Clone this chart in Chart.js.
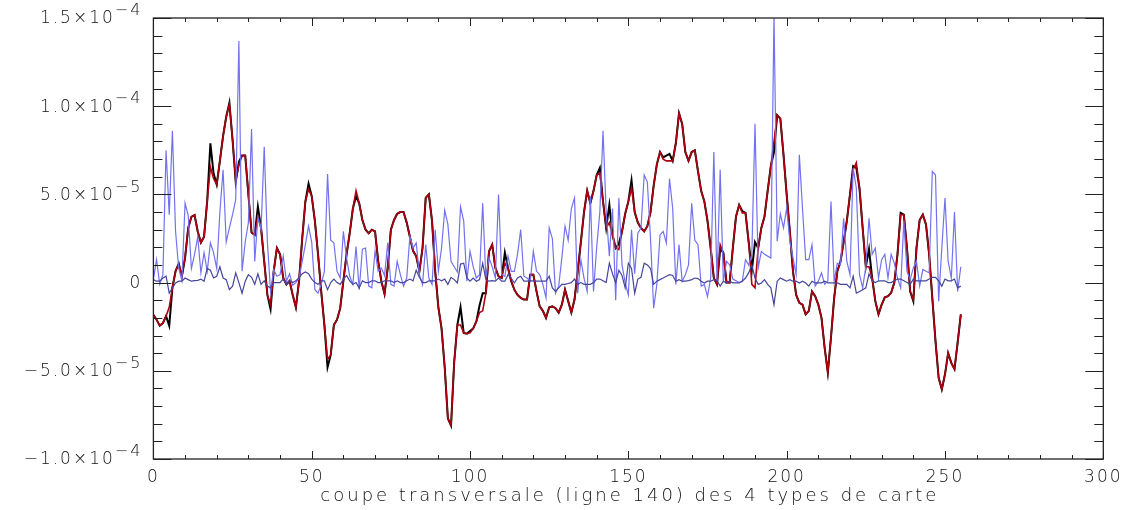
<!DOCTYPE html>
<html>
<head>
<meta charset="utf-8">
<script src="https://cdn.jsdelivr.net/npm/chart.js@4.4.1/dist/chart.umd.min.js"></script>
<style>
    html, body {margin: 0; padding: 0; background: #fff;}
    canvas {display: block;}
</style>
</head>
<body>
<canvas id="coupe" width="1130" height="510"></canvas>
<script>
// values are in units of 1e-5
const UNIT = 1e-5;

const carteNoire = [
    -1.83, -2.1, -2.44, -2.3, -1.9, -2.45, -0.3, 0.65, 1.07, 0.36,
    1.4, 3.1, 3.73, 3.83, 2.9, 2.27, 2.6, 4.65, 7.9, 6.2,
    5.56, 6.9, 8.3, 9.4, 10.2, 8.1, 5.7, 6.85, 7.2, 7.2,
    5.0, 2.84, 2.7, 4.3, 3.1, 1.2, -0.7, -1.5, 0.65, 1.96,
    1.6, 0.26, -0.1, 0.1, -0.7, -1.4, 0.1, 2.5, 4.6, 5.6,
    4.9, 3.5, 1.6, -0.5, -2.4, -4.8, -4.1, -2.4, -2.1, -1.45,
    0.1, 1.6, 2.8, 4.2, 4.9, 4.5, 3.55, 3.0, 2.8, 3.0,
    2.9, 1.2, 0.08, -0.64, 0.83, 3.0, 3.55, 3.9, 4.0, 4.0,
    3.4, 2.6, 1.8, 1.5, 0.64, 1.96, 4.8, 5.0, 3.5, 0.64,
    -1.4, -2.6, -4.8, -7.7, -8.1, -4.5, -2.4, -1.4, -2.85, -2.9,
    -2.75, -2.6, -2.2, -1.3, -0.6, -0.6, 1.77, 2.15, 0.83, 0.36,
    0.26, 1.7, 0.83, 0.08, -0.4, -0.7, -0.87, -0.96, -0.96, 0.45,
    0.45, -0.5, -1.35, -1.6, -2.0, -1.4, -1.35, -1.45, -1.7, -1.25,
    -0.4, -1.05, -1.7, -0.96, 0.64, 2.3, 4.0, 5.2, 4.5, 5.2,
    6.1, 6.5, 4.6, 3.1, 4.4, 2.7, 1.96, 2.2, 2.9, 3.9,
    4.6, 5.8, 4.0, 3.4, 3.1, 2.9, 3.2, 4.0, 5.5, 6.7,
    7.4, 7.1, 7.2, 7.3, 6.9, 7.9, 9.6, 9.0, 7.4, 6.9,
    7.4, 7.5, 6.3, 5.2, 4.6, 3.5, 1.96, 0.26, -0.1, 1.9,
    1.7, 0.0, 0.0, 1.96, 3.75, 4.4, 4.05, 3.95, 2.3, 0.7,
    2.3, 1.96, 3.1, 3.75, 5.2, 6.6, 7.4, 9.5, 9.3, 7.25,
    5.0, 2.9, 0.64, -0.7, -1.15, -1.25, -1.8, -1.6, -0.5, -0.77,
    -1.25, -2.0, -3.7, -5.1, -3.1, -0.87, 0.64, 1.2, 2.3, 3.5,
    5.0, 6.6, 6.5, 5.35, 3.1, 0.9, 1.9, 0.26, -1.05, -1.8,
    -1.25, -0.83, -0.77, -0.58, 0.0, 1.6, 3.95, 3.85, 1.96, -0.5,
    -1.05, 1.96, 3.55, 3.85, 3.3, 1.6, -0.87, -3.3, -5.4, -6.05,
    -5.2, -4.0, -4.55, -4.9, -3.4, -1.8
];

const carteRouge = [
    -1.83, -2.1, -2.44, -2.3, -1.9, -1.4, -0.3, 0.65, 1.07, 0.36,
    1.4, 3.1, 3.73, 3.83, 2.9, 2.27, 2.6, 4.65, 6.55, 5.9,
    5.56, 6.9, 8.3, 9.4, 10.1, 8.1, 5.8, 6.65, 7.2, 7.2,
    5.0, 2.84, 2.7, 3.75, 3.1, 1.2, -0.7, -1.25, 0.65, 1.96,
    1.6, 0.26, -0.1, 0.1, -0.7, -1.4, 0.1, 2.5, 4.6, 5.3,
    4.9, 3.5, 1.6, -0.5, -2.4, -4.35, -4.1, -2.4, -2.1, -1.45,
    0.1, 1.6, 2.8, 4.2, 5.2, 4.5, 3.55, 3.0, 2.8, 3.0,
    2.9, 1.2, 0.08, -0.64, 0.83, 3.0, 3.55, 3.9, 4.0, 4.0,
    3.4, 2.6, 1.8, 1.5, 0.64, 1.96, 4.8, 5.0, 3.5, 0.64,
    -1.4, -2.6, -4.8, -7.7, -8.1, -4.5, -2.4, -2.4, -2.85, -2.9,
    -2.85, -2.6, -2.2, -1.7, -1.6, -0.6, 1.77, 2.15, 0.83, 0.36,
    0.26, 1.1, 0.83, 0.08, -0.4, -0.7, -0.87, -0.96, -0.96, 0.45,
    0.45, -0.5, -1.35, -1.6, -2.0, -1.4, -1.35, -1.45, -1.7, -1.25,
    -0.4, -1.05, -1.7, -0.96, 0.64, 2.3, 4.0, 5.2, 4.5, 5.2,
    6.1, 6.2, 4.6, 3.1, 3.4, 2.7, 1.96, 1.87, 2.9, 3.9,
    4.6, 5.35, 4.0, 3.4, 3.1, 2.9, 3.2, 4.0, 5.5, 6.7,
    7.4, 7.0, 6.9, 6.9, 6.9, 7.9, 9.6, 9.0, 7.4, 6.9,
    7.4, 7.5, 6.3, 5.2, 4.6, 3.5, 1.96, 0.26, -0.1, 2.15,
    1.7, 0.0, 0.0, 1.96, 3.75, 4.4, 3.95, 3.95, 2.3, -0.1,
    -0.3, 1.96, 3.1, 3.75, 5.2, 6.6, 8.0, 9.5, 9.3, 7.25,
    5.0, 2.9, 0.64, -0.7, -1.15, -1.25, -1.8, -1.6, -0.5, -0.77,
    -1.25, -2.0, -3.7, -5.1, -3.1, -0.87, 0.64, 1.2, 2.3, 3.5,
    5.0, 6.4, 6.8, 5.35, 3.1, 0.9, 0.9, 0.26, -1.05, -1.8,
    -1.25, -0.83, -0.77, -0.58, 0.0, 1.6, 3.85, 3.85, 1.96, -0.5,
    -0.96, 1.96, 3.55, 3.85, 3.3, 1.6, -0.87, -3.3, -5.4, -6.05,
    -5.2, -4.0, -4.55, -4.9, -3.4, -1.8
];

const carteBleuClair = [
    0.2, 1.3, -0.1, 0.45, 7.5, 3.85, 8.6, 2.9, 0.8, 0.1,
    4.5, 3.8, 0.8, 1.6, 2.6, 0.55, 1.7, 0.65, 2.25, 1.7,
    0.8, 4.0, 6.4, 2.3, 3.1, 3.85, 4.7, 13.7, 0.65, 2.3,
    3.4, 8.7, 1.2, 3.7, 3.0, 7.7, 2.3, -0.5, 0.74, 0.36,
    0.45, 1.5, 0.08, 0.5, -0.15, 0.0, 0.26, 1.2, 2.15, 3.2,
    2.3, -0.4, -0.6, -0.1, 0.64, 6.15, 2.4, 2.25, 0.64, 0.26,
    2.9, 1.4, 0.36, -0.1, 2.05, -0.4, 1.9, 1.96, -0.2, -0.3,
    1.8, 0.64, 0.83, 0.4, 2.25, -0.1, -0.2, 1.2, 0.45, -0.2,
    0.26, 2.6, 1.96, 2.25, 0.45, -0.1, 2.15, 0.26, -0.1, 3.0,
    0.64, 1.96, 4.1, 3.3, 1.2, 0.9, 0.6, 4.3, 3.5, 0.08,
    1.77, 0.9, 0.26, 0.45, 4.5, 0.26, 1.4, 0.9, 0.26, 5.0,
    0.45, 0.36, 1.5, 0.64, 0.64, 1.6, 3.0, 0.36, 0.26, 0.08,
    1.77, 0.64, 0.45, -0.1, -0.87, 3.1, 2.5, -0.6, -0.2, 1.4,
    3.2, 2.4, 4.2, 4.8, -0.6, 1.3, 0.26, -0.5, 4.9, -0.5,
    2.0, 4.0, 8.6, 4.0, 1.5, 4.2, -1.0, 4.8, 1.0, 0.0,
    -0.7, 3.0, 0.5, 2.8, 3.1, 6.1, 5.7, 2.5, -1.45, -0.1,
    2.7, 2.9, 2.25, 5.9, 4.2, -0.1, 2.15, 0.08, 0.45, 1.0,
    4.5, 2.4, 2.15, -0.2, -0.1, -0.8, 0.26, 7.4, 0.08, 6.4,
    0.08, 1.2, 1.0, 0.2, 0.1, 0.0, 0.1, 1.3, 1.0, 1.6,
    9.0, 0.83, 1.77, 1.6, 1.5, 1.4, 15.2, 2.35, 3.9, 3.1,
    4.2, 2.35, 1.4, 0.45, 7.25, 4.2, 1.3, 1.3, 2.15, -0.2,
    0.08, 0.55, -0.1, 0.1, 4.6, 0.08, 1.1, 1.0, 3.65, 1.2,
    0.45, 6.5, 5.35, 0.45, -0.3, 0.9, 3.65, 1.6, 1.96, 0.26,
    1.3, 1.6, 0.26, 1.6, 1.1, 0.26, -0.3, 3.5, 0.64, 0.17,
    0.83, 1.2, -0.2, 0.74, 0.64, 0.55, 6.3, 6.1, -1.05, 1.96,
    4.8, 1.2, 0.26, 4.0, -0.5, 0.9
];

const carteBleuFonce = [
    0.17, 0.08, 0.08, 0.26, 0.36, -0.6, -0.3, -0.02, 0.08, 0.08,
    0.26, 0.17, 0.08, 0.11, 0.13, 0.2, 0.08, 0.8, 0.7, 0.26,
    0.36, 0.9, 0.26, 0.17, -0.4, -0.2, 0.55, 0.0, -0.6, 0.08,
    0.45, 0.3, -0.1, 0.5, -0.1, 0.1, -0.2, -0.3, 0.0, 0.0,
    0.0, 0.2, -0.1, 0.1, 0.0, 0.1, 0.3, 0.5, 0.6, 0.5,
    0.2, 0.0, -0.1, 0.1, 0.1, -0.4, 0.0, 0.2, 0.0, -0.1,
    0.2, 0.4, 0.1, -0.1, 0.0, -0.3, 0.1, 0.0, 0.0, 0.1,
    0.1, 0.0, 0.0, 0.1, 0.1, 0.1, 0.0, 0.1, 0.0, 0.0,
    0.1, 0.2, 0.1, 0.7, 0.3, 0.0, 0.0, 0.1, 0.1, 0.1,
    0.2, 0.1, 0.2, -0.1, 0.3, 0.17, -0.02, 1.05, 1.1, 0.26,
    0.08, 0.26, 0.08, 0.17, 1.1, 0.17, 0.08, 0.11, 0.08, 0.26,
    0.08, 0.08, 0.45, 0.26, -0.02, 0.26, 0.36, 0.08, 0.08, 0.11,
    0.08, 0.08, 0.08, 0.08, 0.08, 0.36, -0.3, -0.5, -0.3, -0.1,
    -0.1, -0.05, 0.0, 0.2, -0.1, 0.0, -0.1, -0.1, -0.1, 0.0,
    0.2, 0.2, 0.1, 0.0, 1.1, 0.5, 0.0, 0.7, 0.4, -0.3,
    1.1, 0.8, -0.6, 0.2, 0.3, 1.1, 1.0, 0.8, -0.1, 0.08,
    0.17, 0.26, 0.36, 0.45, 0.4, 0.08, 0.17, 0.08, 0.08, 0.11,
    0.17, 0.26, 0.23, 0.08, -0.02, 0.08, 0.08, 0.17, 0.11, -0.2,
    0.08, -0.02, 0.08, -0.02, -0.02, -0.02, 0.08, 0.26, 0.55, 1.0,
    0.26, -0.1, -0.02, 0.17, -0.1, -0.3, -1.25, 0.08, 0.26, 0.17,
    0.08, 0.17, 0.08, 0.08, -0.02, 0.08, -0.02, -0.2, 0.08, -0.02,
    -0.02, -0.02, 0.08, -0.02, -0.02, -0.02, -0.02, -0.1, -0.1, -0.1,
    -0.3, 0.36, -0.6, -0.5, -0.4, -0.3, 0.5, 0.1, 0.0, 0.1,
    0.1, 0.1, 0.0, 0.0, 0.1, 0.2, 0.2, 0.1, 0.0, -0.1,
    0.2, 0.1, 0.1, 0.1, 0.1, 0.2, 0.3, 0.3, 0.1, -0.2,
    0.2, 0.1, 0.1, 0.2, -0.3, -0.2
];

const xTitle = "coupe transversale (ligne 140) des 4 types de carte";
const yTickValues = [15, 10, 5, 0, -5, -10];
const yTickMantissas = ["1.5\u00d710", "1.0\u00d710", "5.0\u00d710", "0", "\u22125.0\u00d710", "\u22121.0\u00d710"];
const yTickExponents = ["\u22124", "\u22124", "\u22125", "", "\u22125", "\u22124"];

const FONT = "'DejaVu Sans', 'Liberation Sans', sans-serif";
const INK = "#111";

const toPoints = arr => arr.map((v, i) => ({x: i, y: v * UNIT}));

// IDL-style box: frame, inward ticks on all four sides, y labels with exponents, x title
const idlFrame = {
    id: "idlFrame",
    beforeDraw(chart) {
        chart.ctx.letterSpacing = "2px";
    },
    afterDraw(chart) {
        const {ctx, chartArea: a, scales: {x, y}} = chart;
        ctx.save();
        ctx.strokeStyle = "#222";
        ctx.lineWidth = 1.3;
        ctx.strokeRect(a.left, a.top, a.right - a.left, a.bottom - a.top);

        ctx.lineWidth = 1;
        ctx.beginPath();
        for (let v = -10; v <= 15; v++) {
            const py = Math.round(y.getPixelForValue(v * UNIT)) + 0.5;
            const len = v % 5 === 0 ? 18 : 9;
            ctx.moveTo(a.left, py); ctx.lineTo(a.left + len, py);
            ctx.moveTo(a.right, py); ctx.lineTo(a.right - len, py);
        }
        for (let v = 0; v <= 300; v += 10) {
            const px = Math.round(x.getPixelForValue(v)) + 0.5;
            const len = v % 50 === 0 ? 8 : 4;
            ctx.moveTo(px, a.bottom); ctx.lineTo(px, a.bottom - len);
            ctx.moveTo(px, a.top); ctx.lineTo(px, a.top + len);
        }
        ctx.stroke();

        ctx.fillStyle = INK;
        ctx.textBaseline = "middle";
        ctx.letterSpacing = "2px";
        const right = a.left - 11;
        yTickValues.forEach((v, i) => {
            const py = y.getPixelForValue(v * UNIT);
            ctx.font = "300 16px " + FONT;
            const expW = yTickExponents[i] ? ctx.measureText(yTickExponents[i]).width : 0;
            ctx.textAlign = "right";
            if (expW) ctx.fillText(yTickExponents[i], right, py - 7);
            ctx.font = "300 17px " + FONT;
            ctx.fillText(yTickMantissas[i], right - expW, py + 1);
        });

        ctx.font = "300 18px " + FONT;
        ctx.letterSpacing = "3px";
        ctx.textAlign = "center";
        ctx.fillText(xTitle, (a.left + a.right) / 2 + 1.5, 496);
        ctx.restore();
    }
};

new Chart(document.getElementById("coupe"), {
    type: "line",
    data: {
        datasets: [
            {data: toPoints(carteBleuFonce), borderColor: "#45459e", borderWidth: 1.2},
            {data: toPoints(carteBleuClair), borderColor: "#7272f0", borderWidth: 1.2},
            {data: toPoints(carteRouge), borderColor: "#b00010", borderWidth: 1.6},
            {data: toPoints(carteNoire), borderColor: "#000000", borderWidth: 2}
        ]
    },
    options: {
        responsive: false,
        animation: false,
        devicePixelRatio: 1,
        parsing: false,
        elements: {
            point: {radius: 0},
            line: {tension: 0, fill: false}
        },
        layout: {padding: {left: 0, right: 26.7, top: 18, bottom: 0}},
        plugins: {legend: {display: false}, tooltip: {enabled: false}},
        scales: {
            x: {
                type: "linear",
                min: 0,
                max: 300,
                grid: {display: false, drawTicks: false},
                border: {display: false},
                ticks: {
                    stepSize: 50,
                    padding: 8,
                    maxRotation: 0,
                    color: INK,
                    font: {family: FONT, size: 17, weight: 300}
                },
                afterFit: s => { s.height = 51; }
            },
            y: {
                min: -10 * UNIT,
                max: 15 * UNIT,
                grid: {display: false, drawTicks: false},
                border: {display: false},
                ticks: {display: false},
                afterFit: s => { s.width = 153.4; }
            }
        }
    },
    plugins: [idlFrame]
});
</script>
</body>
</html>
